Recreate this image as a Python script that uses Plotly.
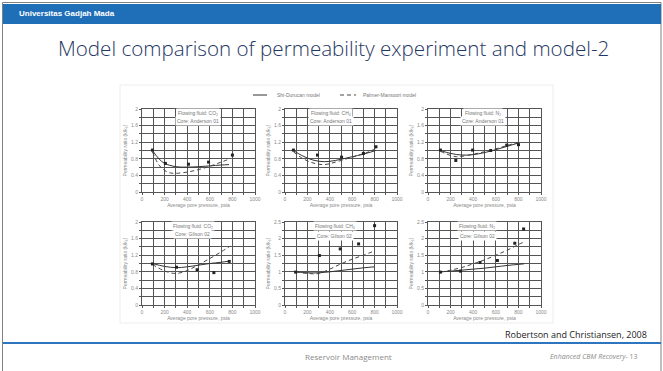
import plotly.graph_objects as go

# ---------------- data ----------------
titles_fluid = ["Flowing fluid: CO₂", "Flowing fluid: CH₄", "Flowing fluid: N₂",
                "Flowing fluid: CO₂", "Flowing fluid: CH₄", "Flowing fluid: N₂"]
titles_core = ["Core: Anderson 01", "Core: Anderson 01", "Core: Anderson 01",
               "Core: Gilson 02", "Core: Gilson 02", "Core: Gilson 02"]

# experiment points (pressure psia, permeability ratio)
p1_exp_x = [92, 207, 411, 589, 800]
p1_exp_y = [1.01, 0.69, 0.67, 0.72, 0.89]
p2_exp_x = [75, 290, 505, 700, 812]
p2_exp_y = [1.01, 0.89, 0.84, 0.93, 1.09]
p3_exp_x = [110, 246, 395, 555, 697, 801]
p3_exp_y = [1.01, 0.76, 1.01, 1.0, 1.13, 1.14]
p4_exp_x = [92, 305, 488, 636, 772]
p4_exp_y = [0.99, 0.91, 0.85, 0.78, 1.05]
p5_exp_x = [95, 307, 493, 657, 800]
p5_exp_y = [0.99, 1.49, 1.69, 1.84, 2.39]
p6_exp_x = [110, 288, 460, 614, 768, 846]
p6_exp_y = [0.99, 1.02, 1.28, 1.34, 1.86, 2.29]

# Shi-Durucan model curves
p1_sd_x = [92, 150, 200, 300, 400, 500, 600, 700, 770]
p1_sd_y = [1.0, 0.80, 0.69, 0.61, 0.60, 0.61, 0.63, 0.65, 0.66]
p2_sd_x = [75, 150, 250, 350, 450, 550, 650, 750, 810]
p2_sd_y = [1.0, 0.88, 0.77, 0.73, 0.76, 0.82, 0.88, 0.95, 1.0]
p3_sd_x = [110, 200, 300, 400, 500, 600, 700, 800]
p3_sd_y = [1.0, 0.93, 0.89, 0.90, 0.95, 1.02, 1.10, 1.18]
p4_sd_x = [92, 200, 300, 400, 500, 600, 700, 780]
p4_sd_y = [1.0, 0.93, 0.90, 0.92, 0.96, 1.0, 1.03, 1.06]
p5_sd_x = [95, 200, 300, 400, 500, 600, 700, 800]
p5_sd_y = [1.0, 0.97, 0.97, 1.0, 1.04, 1.08, 1.12, 1.15]
p6_sd_x = [110, 200, 300, 400, 500, 600, 700, 850]
p6_sd_y = [1.0, 1.02, 1.05, 1.08, 1.11, 1.15, 1.19, 1.24]

# Palmer-Mansoori model curves
p1_pm_x = [92, 150, 200, 250, 300, 400, 500, 600, 700, 780]
p1_pm_y = [0.97, 0.65, 0.52, 0.46, 0.45, 0.48, 0.54, 0.62, 0.72, 0.80]
p2_pm_x = [75, 150, 250, 350, 450, 550, 650, 750, 810]
p2_pm_y = [0.97, 0.82, 0.70, 0.66, 0.72, 0.80, 0.88, 0.97, 1.05]
p3_pm_x = [110, 200, 250, 300, 400, 500, 600, 700, 800]
p3_pm_y = [0.98, 0.88, 0.85, 0.86, 0.91, 0.97, 1.04, 1.12, 1.20]
p4_pm_x = [92, 200, 300, 400, 500, 600, 700, 780]
p4_pm_y = [0.98, 0.82, 0.76, 0.83, 0.97, 1.12, 1.28, 1.42]
p5_pm_x = [95, 200, 300, 400, 500, 600, 700, 800]
p5_pm_y = [1.0, 0.95, 0.95, 1.08, 1.24, 1.38, 1.50, 1.63]
p6_pm_x = [110, 200, 300, 400, 500, 600, 700, 800, 850]
p6_pm_y = [0.99, 1.05, 1.13, 1.24, 1.36, 1.50, 1.65, 1.82, 1.90]

x_ticks = [0, 200, 400, 600, 800, 1000]
y_ticks_a = [0, 0.4, 0.8, 1.2, 1.6, 2]
y_ticks_b = [0, 0.5, 1, 1.5, 2, 2.5]
y_tick_text_a = ["0", "0.4", "0.8", "1.2", "1.6", "2"]
y_tick_text_b = ["0", "0.5", "1", "1.5", "2", "2.5"]

exp_x = [p1_exp_x, p2_exp_x, p3_exp_x, p4_exp_x, p5_exp_x, p6_exp_x]
exp_y = [p1_exp_y, p2_exp_y, p3_exp_y, p4_exp_y, p5_exp_y, p6_exp_y]
sd_x = [p1_sd_x, p2_sd_x, p3_sd_x, p4_sd_x, p5_sd_x, p6_sd_x]
sd_y = [p1_sd_y, p2_sd_y, p3_sd_y, p4_sd_y, p5_sd_y, p6_sd_y]
pm_x = [p1_pm_x, p2_pm_x, p3_pm_x, p4_pm_x, p5_pm_x, p6_pm_x]
pm_y = [p1_pm_y, p2_pm_y, p3_pm_y, p4_pm_y, p5_pm_y, p6_pm_y]
label_x = [495, 410, 485, 450, 446, 434]

# ---------------- layout helpers ----------------
W, H = 663, 371
def fx(p):
    return p / W
def fy(p):
    return 1 - p / H

col_px = [(142, 255), (285, 397), (428, 541)]
row_px = [(109, 192), (222, 305)]

GRID = "#555555"
TXT = "#8a8a8a"

fig = go.Figure()
layout = dict(
    width=W, height=H, margin=dict(l=0, r=0, t=0, b=0, autoexpand=False),
    paper_bgcolor="white", plot_bgcolor="white", showlegend=False,
)
annotations = []
shapes = []

for i in range(6):
    r, c = divmod(i, 3)
    n = i + 1
    xa = "x" if n == 1 else f"x{n}"
    ya = "y" if n == 1 else f"y{n}"
    ymax = 2 if i < 4 else 2.5
    ystep = 0.2 if i < 4 else 0.25
    yt = y_ticks_a if i < 4 else y_ticks_b
    ytt = y_tick_text_a if i < 4 else y_tick_text_b
    x0, x1 = col_px[c]
    y0, y1 = row_px[r]
    layout["xaxis" if n == 1 else f"xaxis{n}"] = dict(
        domain=[fx(x0), fx(x1)], anchor=ya, range=[0, 1000], automargin=False,
        tickvals=x_ticks, ticks="outside", ticklen=2, tickcolor=GRID,
        showgrid=True, gridcolor=GRID, gridwidth=1,
        minor=dict(dtick=100, showgrid=True, gridcolor=GRID, gridwidth=1,
                   ticks="outside", ticklen=2, tickcolor=GRID),
        showline=True, linecolor=GRID, linewidth=1, mirror=True, zeroline=False,
        tickfont=dict(size=5, color=TXT, family="Arial"),
        title=dict(text="Average pore pressure, psia",
                   font=dict(size=5, color=TXT, family="Arial"), standoff=1),
    )
    layout["yaxis" if n == 1 else f"yaxis{n}"] = dict(
        domain=[fy(y1), fy(y0)], anchor=xa, range=[0, ymax], automargin=False,
        tickvals=yt, ticktext=ytt, ticks="outside", ticklen=2, tickcolor=GRID,
        showgrid=True, gridcolor=GRID, gridwidth=1,
        minor=dict(dtick=ystep, showgrid=True, gridcolor=GRID, gridwidth=1,
                   ticks="outside", ticklen=2, tickcolor=GRID),
        showline=True, linecolor=GRID, linewidth=1, mirror=True, zeroline=False,
        tickfont=dict(size=5, color=TXT, family="Arial"),
        title=dict(text="Permeability ratio (k/k₀)",
                   font=dict(size=5, color=TXT, family="Arial"), standoff=3),
    )
    fig.add_trace(go.Scatter(x=sd_x[i], y=sd_y[i], mode="lines", xaxis=xa, yaxis=ya,
                             line=dict(color="#333333", width=1, shape="spline")))
    fig.add_trace(go.Scatter(x=pm_x[i], y=pm_y[i], mode="lines", xaxis=xa, yaxis=ya,
                             line=dict(color="#444444", width=1, dash="4px,3px", shape="spline")))
    fig.add_trace(go.Scatter(x=exp_x[i], y=exp_y[i], mode="markers", xaxis=xa, yaxis=ya,
                             marker=dict(color="#222222", size=3, symbol="square")))
    fy1 = 1.90 if i < 4 else 2.38
    fy2 = 1.70 if i < 4 else 2.09
    annotations.append(dict(x=label_x[i], y=fy1, xref=xa, yref=ya, text=titles_fluid[i],
                            showarrow=False, bgcolor="white", xanchor="center", yanchor="middle",
                            font=dict(size=5, color="#777777", family="Arial")))
    annotations.append(dict(x=label_x[i], y=fy2, xref=xa, yref=ya, text=titles_core[i],
                            showarrow=False, bgcolor="white", xanchor="center", yanchor="middle",
                            font=dict(size=5, color="#777777", family="Arial")))

def ptext(x, y, text, size, color, family, xanchor="center"):
    annotations.append(dict(x=fx(x), y=fy(y), xref="paper", yref="paper",
                            xanchor=xanchor, yanchor="middle", text=text, showarrow=False,
                            font=dict(size=size, color=color, family=family)))

# image frame
shapes.append(dict(type="rect", xref="paper", yref="paper", x0=fx(120), x1=fx(553),
                   y0=fy(323), y1=fy(85), line=dict(color="#ededed", width=1), layer="below"))
# legend
shapes.append(dict(type="line", xref="paper", yref="paper", x0=fx(253), x1=fx(267),
                   y0=fy(95), y1=fy(95), line=dict(color="#333333", width=1)))
shapes.append(dict(type="line", xref="paper", yref="paper", x0=fx(340), x1=fx(356),
                   y0=fy(95), y1=fy(95), line=dict(color="#444444", width=1, dash="4px,3px")))
ptext(275, 95, "Shi-Durucan model", 5, "#777777", "Arial", "left")
ptext(361, 95, "Palmer-Mansoori model", 5, "#777777", "Arial", "left")

# slide frame & header
shapes.append(dict(type="rect", xref="paper", yref="paper", x0=fx(2.5), x1=fx(661),
                   y0=fy(372), y1=fy(2.5), line=dict(color="#808080", width=1)))
shapes.append(dict(type="rect", xref="paper", yref="paper", x0=fx(3), x1=fx(661),
                   y0=fy(24), y1=fy(4), fillcolor="#1F6FB8", line=dict(width=0)))
shapes.append(dict(type="line", xref="paper", yref="paper", x0=fx(3), x1=fx(661),
                   y0=fy(343), y1=fy(343), line=dict(color="#2E75C0", width=2)))
ptext(17, 14, "<b>Universitas Gadjah Mada</b>", 8, "white", "Liberation Sans Narrow, Arial", "left")
annotations.append(dict(x=fx(333), y=fy(48), xref="paper", yref="paper",
                        xanchor="center", yanchor="middle",
                        text="Model comparison of permeability experiment and model-2",
                        showarrow=False,
                        font=dict(size=20.6, color="#1F3864", family="Open Sans", weight=300)))
ptext(649, 334, "Robertson and Christiansen, 2008", 9, "#222222", "Open Sans", "right")
ptext(348, 356, "Reservoir Management", 8, "#8a8a8a", "Open Sans")
ptext(640, 356, "<i>Enhanced CBM Recovery</i>- 13", 7, "#8a8a8a", "Open Sans", "right")

layout["annotations"] = annotations
layout["shapes"] = shapes
fig.update_layout(**layout)
fig.write_html("out.html", config={"displayModeBar": False},
               post_script="document.body.style.margin='0';document.body.style.overflow='hidden';")
